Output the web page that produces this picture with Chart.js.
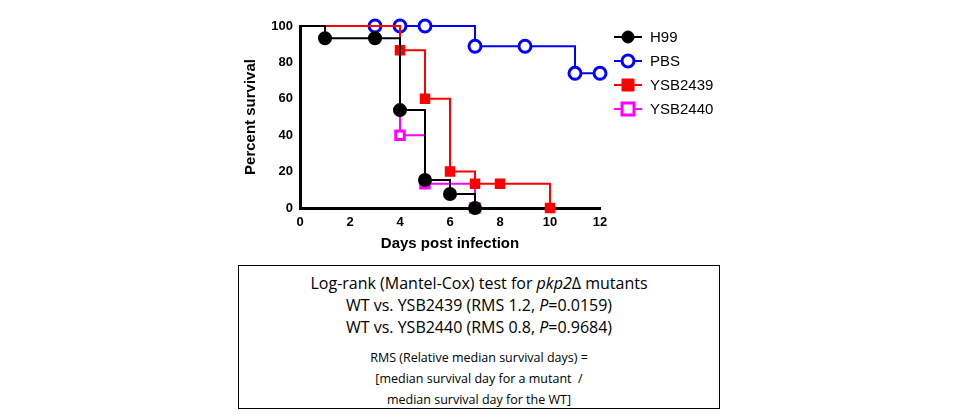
<!DOCTYPE html>
<html lang="en">
<head>
<meta charset="UTF-8">
<script src="https://cdn.jsdelivr.net/npm/chart.js"></script>
<style>
  body { margin: 0; background: #fff; width: 960px; height: 415px; position: relative; font-family: "Open Sans", sans-serif; }
  #wrap { position: absolute; left: 0; top: 0; width: 960px; height: 260px; }
  .box { position: absolute; left: 238px; top: 265px; width: 482px; height: 144px; border: 1px solid #000; text-align: center; box-sizing: border-box; }
  .big { font-size: 16px; line-height: 22px; }
  .small { font-size: 12.5px; line-height: 21px; }
</style>
</head>
<body>
<div id="wrap"><canvas id="c"></canvas></div>
<div class="box">
  <div class="big" style="margin-top:6px">Log-rank (Mantel-Cox) test for <i>pkp2</i>&Delta; mutants</div>
  <div class="big">WT vs. YSB2439 (RMS 1.2, <i>P</i>=0.0159)</div>
  <div class="big">WT vs. YSB2440 (RMS 0.8, <i>P</i>=0.9684)</div>
  <div class="small" style="margin-top:9px">RMS (Relative median survival days) =</div>
  <div class="small">[median survival day for a mutant &nbsp;/</div>
  <div class="small">median survival day for the WT]</div>
</div>
<script>
const xTicks = [0, 2, 4, 6, 8, 10, 12];
const yTicks = [0, 20, 40, 60, 80, 100];

const h99Days = [0, 1, 3, 4, 5, 6, 7];
const h99Surv = [100, 93.3, 93.3, 53.8, 15.4, 7.7, 0];
const pbsDays = [0, 3, 4, 5, 7, 9, 11, 12];
const pbsSurv = [100, 100, 100, 100, 88.9, 88.9, 74, 74];
const y2439Days = [0, 4, 5, 6, 7, 8, 10];
const y2439Surv = [100, 86.7, 60, 20, 13.3, 13.3, 0];
const y2440Days = [0, 4, 5, 7];
const y2440Surv = [100, 40, 13.3, 0];

function pts(d, s) { return d.map((x, i) => ({ x: x, y: s[i] })); }
function radii(n) { return Array.from({ length: n }, (_, i) => i === 0 ? 0 : 6); }

const datasets = [
  { label: 'H99', data: pts(h99Days, h99Surv), borderColor: '#000', backgroundColor: '#000', pointStyle: 'circle', pointRadius: radii(h99Days.length), order: 0 },
  { label: 'PBS', data: pts(pbsDays, pbsSurv), borderColor: '#0000ff', backgroundColor: '#fff', pointStyle: 'circle', pointRadius: radii(pbsDays.length), pointBorderWidth: 3, order: 3 },
  { label: 'YSB2439', data: pts(y2439Days, y2439Surv), borderColor: '#ff0000', backgroundColor: '#ff0000', pointStyle: 'rect', pointRadius: radii(y2439Days.length), order: 1 },
  { label: 'YSB2440', data: pts(y2440Days, y2440Surv), borderColor: '#ff00ff', backgroundColor: '#fff', pointStyle: 'rect', pointRadius: radii(y2440Days.length), pointBorderWidth: 3, order: 2 }
];
datasets.forEach(d => { d.stepped = true; d.borderWidth = 2; d.clip = 10; });

const legendPlugin = {
  id: 'kmLegend',
  afterDraw(chart) {
    const ctx = chart.ctx;
    ctx.save();
    chart.data.datasets.forEach((d, i) => {
      const y = 37 + i * 24;
      ctx.strokeStyle = d.borderColor; ctx.lineWidth = 2;
      ctx.beginPath(); ctx.moveTo(614, y); ctx.lineTo(642, y); ctx.stroke();
      ctx.fillStyle = d.backgroundColor; ctx.lineWidth = d.pointBorderWidth || 1;
      ctx.beginPath();
      if (d.pointStyle === 'circle') ctx.arc(628, y, 6, 0, Math.PI * 2);
      else ctx.rect(622, y - 6, 12, 12);
      ctx.fill(); ctx.stroke();
      ctx.fillStyle = '#000'; ctx.font = '15px "Liberation Sans"'; ctx.textBaseline = 'middle';
      ctx.fillText(d.label, 650, y + 1);
    });
    ctx.restore();
  }
};

new Chart(document.getElementById('c'), {
  type: 'line',
  data: { datasets: datasets },
  plugins: [legendPlugin],
  options: {
    responsive: true, maintainAspectRatio: false, animation: false,
    layout: { padding: { left: 240, right: 360, top: 26, bottom: 5 } },
    plugins: { legend: { display: false }, tooltip: { enabled: false } },
    scales: {
      x: {
        type: 'linear', min: 0, max: 12,
        afterBuildTicks: s => { s.ticks = xTicks.map(v => ({ value: v })); },
        afterFit: s => { s.height = 47; },
        grid: { display: false, drawTicks: true, tickLength: 5, tickWidth: 2, tickColor: '#000' },
        border: { color: '#000', width: 3 },
        ticks: { color: '#000', font: { family: 'Liberation Sans', size: 13, weight: 'bold' }, padding: 2, maxRotation: 0 },
        title: { display: true, text: 'Days post infection', color: '#000', font: { family: 'Liberation Sans', size: 15, weight: 'bold' }, padding: 2 }
      },
      y: {
        min: 0, max: 100,
        afterBuildTicks: s => { s.ticks = yTicks.map(v => ({ value: v })); },
        afterFit: s => { s.width = 60; },
        grid: { display: false, drawTicks: true, tickLength: 5, tickWidth: 2, tickColor: '#000' },
        border: { color: '#000', width: 3 },
        ticks: { color: '#000', font: { family: 'Liberation Sans', size: 13, weight: 'bold' }, padding: 2 },
        title: { display: true, text: 'Percent survival', color: '#000', font: { family: 'Liberation Sans', size: 15, weight: 'bold' }, padding: 2 }
      }
    }
  }
});
</script>
</body>
</html>
